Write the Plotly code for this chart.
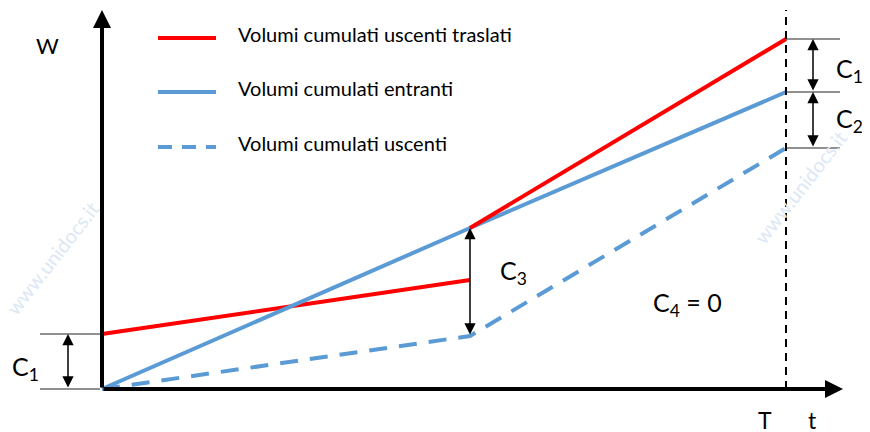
import plotly.graph_objects as go

# ---- data (t in units where T = 10, W arbitrary units) ----
T = 10.0
t_knee = 5.38
t_ent = [0.0, t_knee, T]
w_entranti = [0.0, 16.1, 29.7]
t_usc = [0.0, t_knee, T]
w_uscenti = [0.0, 5.3, 24.1]
t_tr1 = [0.0, t_knee]
w_traslati_1 = [5.5, 10.9]
t_tr2 = [t_knee, T]
w_traslati_2 = [16.1, 35.0]

legend_labels = ["Volumi cumulati uscenti traslati", "Volumi cumulati entranti", "Volumi cumulati uscenti"]

RED = "#FF0000"
BLUE = "#5B9BD5"
FONT = "Lato"

W_PX, H_PX = 870, 432
OFF = 8  # page body margin
X0_PX, Y0_PX = 102 - OFF, 389 - OFF
SX, SY = 68.4, 10.0
xr = [(0 - X0_PX) / SX, (W_PX - X0_PX) / SX]
yr = [(Y0_PX - H_PX) / SY, (Y0_PX - 0) / SY]

def px(x):
    return (x - OFF) / W_PX

def py(y):
    return 1 - (y - OFF) / H_PX

def tx(xref_px):
    return (xref_px - 102) / SX

fig = go.Figure()
fig.add_trace(go.Scatter(x=t_tr1, y=w_traslati_1, mode="lines", line=dict(color=RED, width=4), showlegend=False))
fig.add_trace(go.Scatter(x=t_ent, y=w_entranti, mode="lines", line=dict(color=BLUE, width=4), showlegend=False))
fig.add_trace(go.Scatter(x=t_usc, y=w_uscenti, mode="lines", line=dict(color=BLUE, width=4, dash="18px,12px"), showlegend=False))
fig.add_trace(go.Scatter(x=t_tr2, y=w_traslati_2, mode="lines", line=dict(color=RED, width=4), showlegend=False))

shapes = []
annotations = []

# watermarks
for (x, y) in [(52, 258), (800, 187)]:
    annotations.append(dict(x=px(x), y=py(y), xref="paper", yref="paper", text="www.unidocs.it",
                            xanchor="center", yanchor="middle",
                            showarrow=False, textangle=-52, font=dict(family=FONT, size=20, color="#DCE8F5")))

# vertical dashed line at T
shapes.append(dict(type="line", xref="x", yref="y", x0=T, x1=T, y0=0, y1=(389 - 10) / SY,
                   line=dict(color="black", width=2, dash="8px,6px")))

# axes with arrows
annotations.append(dict(x=0, y=(389 - 10) / SY, ax=0, ay=0, xref="x", yref="y", axref="x", ayref="y",
                        showarrow=True, arrowhead=2, arrowsize=0.9, arrowwidth=4, arrowcolor="black", text=""))
annotations.append(dict(x=tx(843), y=0, ax=0, ay=0, xref="x", yref="y", axref="x", ayref="y",
                        showarrow=True, arrowhead=2, arrowsize=0.9, arrowwidth=4, arrowcolor="black", text=""))

# helper lines
thin = dict(color="#222222", width=1.2)
for w in [w_traslati_1[0], 0.0]:
    shapes.append(dict(type="line", xref="x", yref="y", x0=tx(40), x1=-0.03, y0=w, y1=w, line=thin))
for w in [w_traslati_2[-1], w_entranti[-1], w_uscenti[-1]]:
    shapes.append(dict(type="line", xref="x", yref="y", x0=T, x1=tx(840), y0=w, y1=w, line=thin))

def dbl(x, ya, yb):
    annotations.append(dict(x=x, y=ya, ax=x, ay=yb, xref="x", yref="y", axref="x", ayref="y",
                            showarrow=True, arrowhead=2, arrowside="end+start", arrowsize=1.5,
                            arrowwidth=1.5, arrowcolor="black", text="", standoff=0, startstandoff=0))

dbl(tx(68), w_traslati_1[0], 0.0)
dbl(t_knee, w_entranti[1], w_uscenti[1])
dbl(tx(813), w_traslati_2[-1], w_entranti[-1])
dbl(tx(813), w_entranti[-1], w_uscenti[-1])

def label(x, y, text, size=24, anchor="center"):
    annotations.append(dict(x=px(x), y=py(y), xref="paper", yref="paper", text=text, showarrow=False,
                            xanchor=anchor, yanchor="middle", font=dict(family=FONT, size=size, color="black")))

label(47, 45, "W", 22)
label(765, 420, "T", 23)
label(812, 420, "t", 23)
label(10, 368, "C<sub>1</sub>", 25, "left")
label(498, 272, "C<sub>3</sub>", 25, "left")
label(834, 70, "C<sub>1</sub>", 25, "left")
label(834, 120, "C<sub>2</sub>", 25, "left")
label(651, 304, "C<sub>4</sub> = 0", 25, "left")

# legend
leg_y = [38, 92, 147]
leg_styles = [dict(color=RED, width=4), dict(color=BLUE, width=4), dict(color=BLUE, width=4, dash="14px,10px")]
for yy, st, lab in zip(leg_y, leg_styles, legend_labels):
    shapes.append(dict(type="line", xref="paper", yref="paper", x0=px(158), x1=px(216), y0=py(yy), y1=py(yy), line=st))
    annotations.append(dict(x=px(236), y=py(yy - 4), xref="paper", yref="paper", text=lab, showarrow=False,
                            xanchor="left", yanchor="middle", font=dict(family=FONT, size=20, color="black")))

fig.update_layout(
    width=W_PX, height=H_PX, margin=dict(l=0, r=0, t=0, b=0),
    paper_bgcolor="white", plot_bgcolor="white",
    xaxis=dict(range=xr, visible=False, fixedrange=True),
    yaxis=dict(range=yr, visible=False, fixedrange=True),
    shapes=shapes, annotations=annotations, showlegend=False,
)
fig.write_html("out.html")
